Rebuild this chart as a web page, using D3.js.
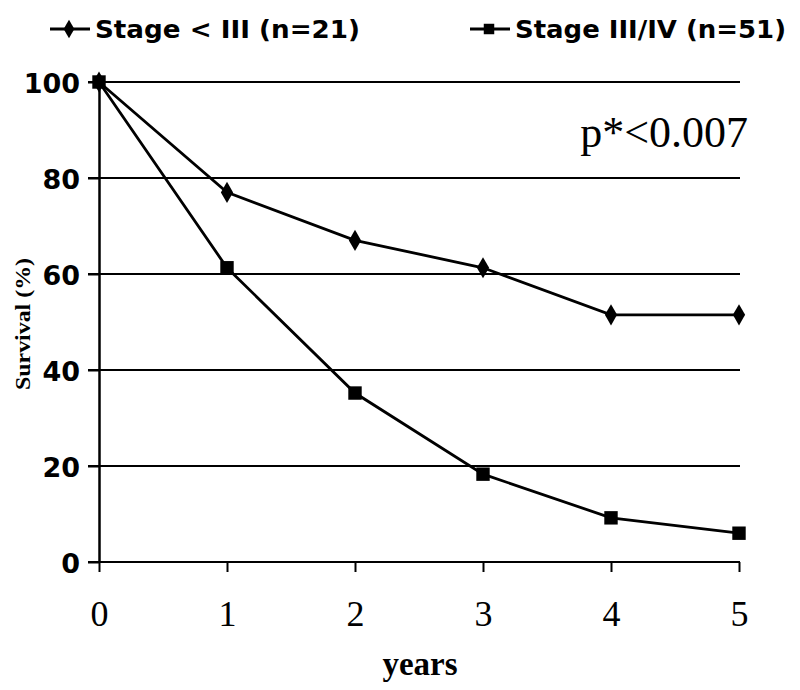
<!DOCTYPE html>
<html>
<head>
<meta charset="utf-8">
<script src="https://cdn.jsdelivr.net/npm/d3@7"></script>
<style>
  body { margin: 0; background: #fff; }
</style>
</head>
<body>
<div id="chart"></div>
<script>
// survival data
var years = [0, 1, 2, 3, 4, 5];
var stageEarly = [100, 77, 67, 61.3, 51.5, 51.5];   // Stage < III (n=21)
var stageLate = [100, 61.3, 35.2, 18.3, 9.2, 6];    // Stage III/IV (n=51)
var yTicks = [0, 20, 40, 60, 80, 100];
var seriesNames = ["Stage < III (n=21)", "Stage III/IV (n=51)"];

var W = 800, H = 690;
var svg = d3.select("#chart").append("svg")
    .attr("width", W).attr("height", H);

var x = d3.scaleLinear().domain([0, 5]).range([99, 739]);
var y = d3.scaleLinear().domain([0, 100]).range([562, 82]);

// gridlines
svg.append("g").selectAll("line")
    .data(yTicks)
  .enter().append("line")
    .attr("x1", 88).attr("x2", 740)
    .attr("y1", d => y(d)).attr("y2", d => y(d))
    .attr("stroke", "#000").attr("stroke-width", 2);

// y axis
var yAxis = svg.append("g")
    .attr("transform", "translate(99,0)")
    .call(d3.axisLeft(y).tickValues(yTicks).tickFormat(d3.format("d")).tickSize(11).tickSizeOuter(0));
yAxis.select(".domain").attr("stroke-width", 2.5);
yAxis.selectAll(".tick line").attr("stroke-width", 2);
yAxis.selectAll("text")
    .attr("x", -19).attr("dy", "0.38em")
    .style("font-family", "'DejaVu Sans', sans-serif")
    .style("font-weight", "bold").style("font-size", "27px");

// x axis
var xAxis = svg.append("g")
    .attr("transform", "translate(0,562)")
    .call(d3.axisBottom(x).tickValues(years).tickFormat(d3.format("d")).tickSize(10).tickSizeOuter(0));
xAxis.select(".domain").remove();
xAxis.selectAll(".tick line").attr("stroke-width", 2);
xAxis.selectAll("text")
    .attr("y", 64).attr("dy", 0)
    .style("font-family", "'Liberation Serif', 'Times New Roman', serif")
    .style("font-size", "36px");

// axis titles
svg.append("text")
    .attr("x", 420).attr("y", 675)
    .attr("text-anchor", "middle")
    .style("font-family", "'Liberation Serif', serif")
    .style("font-weight", "bold").style("font-size", "33px")
    .text("years");

svg.append("text")
    .attr("transform", "translate(30,324) rotate(-90)")
    .attr("text-anchor", "middle")
    .attr("textLength", 132).attr("lengthAdjust", "spacingAndGlyphs")
    .style("font-family", "'Liberation Serif', serif")
    .style("font-weight", "bold").style("font-size", "21px")
    .text("Survival (%)");

svg.append("text")
    .attr("x", 748).attr("y", 147)
    .attr("text-anchor", "end")
    .style("font-family", "'Liberation Serif', serif")
    .style("font-size", "44px")
    .text("p*<0.007");

var line = d3.line()
    .x((d, i) => x(years[i]))
    .y(d => y(d));

var diamond = d3.symbol().type(d3.symbolDiamond).size(130);
var square = d3.symbol().type(d3.symbolSquare).size(180);

svg.append("path").datum(stageEarly)
    .attr("d", line).attr("fill", "none")
    .attr("stroke", "#000").attr("stroke-width", 2.8);
svg.append("path").datum(stageLate)
    .attr("d", line).attr("fill", "none")
    .attr("stroke", "#000").attr("stroke-width", 2.8);

svg.append("g").selectAll("path")
    .data(stageEarly)
  .enter().append("path")
    .attr("d", diamond)
    .attr("transform", (d, i) => "translate(" + x(years[i]) + "," + y(d) + ")");
svg.append("g").selectAll("path")
    .data(stageLate)
  .enter().append("path")
    .attr("d", square)
    .attr("transform", (d, i) => "translate(" + x(years[i]) + "," + y(d) + ")");

// legend
var legendX = [50, 470];
var legendLen = [265, 271];
var symbols = [diamond, square];
seriesNames.forEach(function(name, i) {
  var g = svg.append("g").attr("transform", "translate(" + legendX[i] + ",29)");
  g.append("line").attr("x1", 0).attr("x2", 40)
    .attr("stroke", "#000").attr("stroke-width", 3);
  g.append("path").attr("d", symbols[i].size(i ? 110 : 100))
    .attr("transform", "translate(19,0)");
  g.append("text")
    .attr("x", 45).attr("y", 9)
    .attr("textLength", legendLen[i]).attr("lengthAdjust", "spacingAndGlyphs")
    .style("font-family", "'DejaVu Sans', sans-serif")
    .style("font-weight", "bold").style("font-size", "24px")
    .text(name);
});
</script>
</body>
</html>
